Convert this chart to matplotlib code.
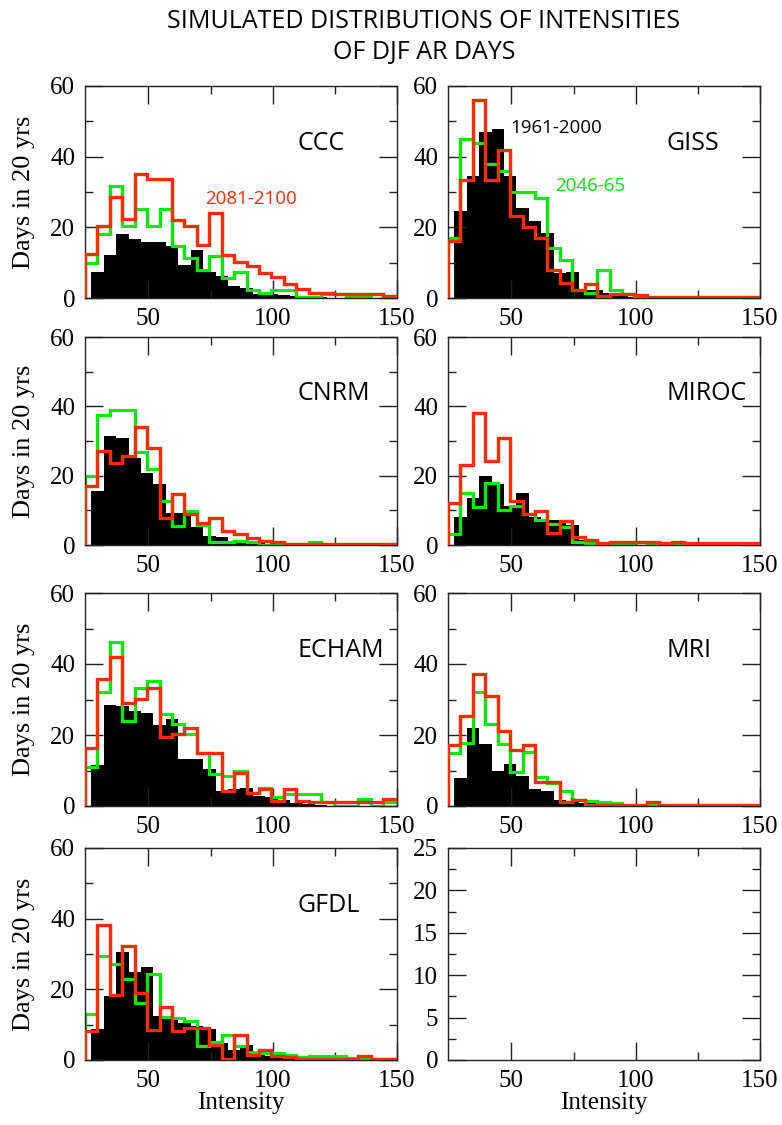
import numpy as np
import matplotlib.pyplot as plt
from matplotlib.ticker import MultipleLocator, FixedLocator

plt.rcParams['font.family'] = ['Liberation Serif', 'DejaVu Serif']

# 直方图的分箱：红/绿线的边界与黑色柱的左边界（黑柱错开半个箱）
line_edges = [24.5 + 5 * k for k in range(27)]
bar_left = [27 + 5 * k for k in range(25)]

models = ['CCC', 'GISS', 'CNRM', 'MIROC', 'ECHAM', 'MRI', 'GFDL']

# 1961-2000 (black bars)
ccc_1961 = [7.5, 12.3, 18.2, 16.7, 15.8, 15.8, 14.6, 9.4, 13.7, 7.5, 6.1, 3.3, 2.8, 1.2, 1.0, 0.8, 0.5, 0.3, 0.2, 0, 0, 0, 0, 0, 0]
giss_1961 = [24.5, 34.4, 46.9, 47.9, 34.4, 25.5, 21.7, 18.4, 7.1, 7.3, 2.2, 2.2, 1.4, 0.5, 0.3, 0, 0, 0, 0, 0, 0, 0, 0, 0, 0]
cnrm_1961 = [15.5, 31.3, 31.0, 25.1, 20.8, 17.5, 9.3, 9.3, 5.1, 2.5, 2.2, 1.0, 0.8, 0.5, 0.3, 0, 0, 0, 0, 0, 0, 0, 0, 0, 0]
miroc_1961 = [8.0, 13.7, 19.8, 17.5, 11.3, 15.1, 8.0, 7.1, 7.1, 5.7, 1.4, 0.9, 0.3, 0, 0, 0, 0, 0, 0, 0, 0, 0, 0, 0, 0]
echam_1961 = [11.5, 28.4, 28.2, 26.8, 26.1, 22.8, 24.5, 13.2, 13.2, 10.3, 4.2, 4.7, 5.2, 2.8, 2.4, 1.7, 0.9, 0.5, 0.3, 0, 0, 0, 0, 0, 0]
mri_1961 = [7.8, 22.0, 17.5, 10.0, 11.9, 8.5, 4.7, 4.3, 1.7, 1.2, 0.9, 0.8, 0.3, 0.3, 0, 0, 0, 0, 0, 0, 0, 0, 0, 0, 0]
gfdl_1961 = [8.8, 18.1, 30.7, 24.8, 26.2, 12.4, 11.9, 10.5, 9.7, 8.8, 4.8, 2.9, 4.3, 2.1, 1.0, 0.5, 0.3, 0, 0, 0, 0, 0, 0, 0, 0]

# 2046-65 (green)
ccc_2046 = [10.0, 18.2, 31.8, 20.3, 25.2, 20.3, 25.2, 14.6, 11.3, 8.0, 12.0, 5.7, 7.3, 2.2, 1.4, 2.2, 2.2, 0.3, 0.3, 1.2, 1.2, 0.3, 0.3, 1.2, 0.3, 0.0]
giss_2046 = [17.0, 45.0, 44.0, 38.0, 36.0, 30.0, 30.0, 28.3, 14.2, 10.8, 2.2, 1.4, 8.0, 2.2, 1.2, 0, 0, 0, 0, 0, 0, 0, 0, 0, 0, 0]
cnrm_2046 = [19.9, 37.6, 39.0, 39.0, 26.7, 21.8, 12.8, 5.4, 9.8, 5.9, 1.0, 0.8, 1.2, 0.8, 0.0, 0.2, 0.2, 0.2, 0.8, 0.2, 0.2, 0.2, 0.2, 0.2, 0.2, 0.2]
miroc_2046 = [3.1, 15.1, 11.1, 18.0, 10.1, 11.3, 9.0, 7.1, 6.1, 5.2, 0.9, 0.7, 0.0, 0.3, 0.3, 0.9, 0.3, 0.0, 0.3, 0, 0, 0, 0, 0, 0, 0]
echam_2046 = [11.1, 32.0, 46.1, 24.0, 33.1, 35.3, 25.9, 23.0, 20.2, 14.9, 8.9, 8.5, 9.9, 3.8, 5.2, 2.4, 3.3, 3.3, 3.3, 1.1, 0.0, 0.0, 2.1, 0.0, 1.1, 1.4]
mri_2046 = [14.9, 17.7, 32.1, 23.2, 17.5, 9.7, 15.1, 8.1, 6.4, 4.1, 1.7, 1.5, 1.2, 0.9, 0, 0, 0.3, 0, 0, 0, 0, 0, 0, 0, 0, 0]
gfdl_2046 = [13.1, 29.3, 27.1, 23.0, 16.2, 24.3, 12.2, 11.9, 11.0, 4.0, 5.0, 7.1, 4.0, 2.4, 2.1, 2.1, 1.4, 0.8, 1.0, 1.0, 1.0, 0.5, 0.5, 0.2, 0.2, 0.2]

# 2081-2100 (red)
ccc_2081 = [12.5, 20.3, 28.6, 22.4, 35.2, 33.7, 33.7, 22.2, 20.3, 15.1, 24.1, 12.3, 10.1, 9.0, 7.0, 6.0, 4.0, 2.5, 1.5, 1.5, 1.0, 1.0, 1.0, 1.0, 0.5, 0.5]
giss_2081 = [16.0, 33.5, 56.0, 33.5, 42.0, 23.3, 20.1, 17.0, 7.8, 4.2, 2.2, 4.1, 0.7, 1.1, 1.1, 0.9, 0.3, 0.3, 0.3, 0.3, 0.3, 0.3, 0.3, 0.3, 0.3, 0.3]
cnrm_2081 = [16.9, 27.0, 23.6, 25.6, 33.9, 28.0, 7.7, 14.6, 8.8, 6.4, 7.9, 3.9, 3.1, 2.0, 1.2, 0.8, 0.2, 0.2, 0.2, 0.2, 0.2, 0.2, 0.2, 0.2, 0.2, 0.2]
miroc_2081 = [12.0, 23.0, 38.1, 24.1, 30.9, 12.8, 8.8, 9.9, 3.5, 6.9, 2.2, 1.4, 0.5, 0.9, 0.9, 0.9, 0.9, 0.5, 0.9, 0.5, 0.5, 0.5, 0.5, 0.5, 0.5, 0.5]
echam_2081 = [16.2, 35.9, 41.9, 29.0, 30.1, 33.1, 19.3, 20.2, 22.1, 14.9, 14.9, 4.2, 9.2, 3.8, 4.7, 1.4, 4.7, 1.4, 1.1, 1.1, 1.1, 1.1, 1.1, 1.1, 1.9, 1.9]
mri_2081 = [17.3, 25.3, 37.1, 30.9, 21.0, 15.8, 17.1, 6.9, 6.9, 1.2, 1.7, 0.3, 0.3, 0.3, 0.3, 0.3, 1.2, 0.3, 0.3, 0.3, 0.3, 0.3, 0.3, 0.3, 0.3, 0.3]
gfdl_2081 = [8.1, 38.3, 18.3, 32.2, 18.9, 8.6, 15.0, 8.1, 9.0, 9.0, 4.3, 0.2, 7.1, 1.4, 2.7, 1.1, 0.8, 0.2, 0.2, 0.2, 0.2, 0.2, 1.0, 0.2, 0.2, 0.2]

black_list = [ccc_1961, giss_1961, cnrm_1961, miroc_1961, echam_1961, mri_1961, gfdl_1961]
green_list = [ccc_2046, giss_2046, cnrm_2046, miroc_2046, echam_2046, mri_2046, gfdl_2046]
red_list = [ccc_2081, giss_2081, cnrm_2081, miroc_2081, echam_2081, mri_2081, gfdl_2081]

RED = '#ff2a00'
GREEN = '#00ee00'
SANS = 'Open Sans'
W, H = 782, 1125

fig = plt.figure(figsize=(W / 100, H / 100), dpi=100)

# 各行子图的上下边界（像素）
rows = [(86, 298), (337, 545), (593, 806), (848, 1060)]
cols = [85, 448]
pw = 312

def make_ax(r, c):
    top, bot = rows[r]
    ax = fig.add_axes([cols[c] / W, 1 - bot / H, pw / W, (bot - top) / H])
    ax.set_xlim(24.5, 150)
    ax.xaxis.set_major_locator(FixedLocator([50, 100, 150]))
    ax.xaxis.set_minor_locator(FixedLocator([75, 125]))
    ax.tick_params(which='both', direction='in', top=True, right=True, width=1.0, color='#222222')
    ax.tick_params(which='major', length=13, labelsize=18, pad=7)
    ax.tick_params(which='minor', length=6)
    for s in ax.spines.values():
        s.set_linewidth(1.0)
        s.set_color('#222222')
    if c == 0:
        ax.set_ylabel('Days in 20 yrs', fontsize=19)
        ax.yaxis.set_label_coords(-0.16, 0.5)
    if r == 3:
        ax.set_xlabel('Intensity', fontsize=18)
        ax.xaxis.set_label_coords(0.5, -0.15)
    return ax

for i, name in enumerate(models):
    r, c = i // 2, i % 2
    ax = make_ax(r, c)
    ax.set_ylim(0, 60)
    ax.yaxis.set_major_locator(MultipleLocator(20))
    ax.yaxis.set_minor_locator(MultipleLocator(10))
    ax.bar(bar_left, black_list[i], width=5, align='edge', color='black', linewidth=0, zorder=1)
    ax.stairs(green_list[i], line_edges, baseline=0, color=GREEN, lw=2.3, zorder=2)
    ax.stairs(red_list[i], line_edges, baseline=0, color=RED, lw=2.4, zorder=3)
    xt = 0.68 if c == 0 else 0.70
    ax.text(xt, 0.73, name, transform=ax.transAxes, ha='left', va='center',
            family=SANS, fontsize=18)
    if name == 'CCC':
        ax.text(0.385, 0.467, '2081-2100', transform=ax.transAxes, color=RED,
                ha='left', va='center', family=SANS, fontsize=13.5)
    if name == 'GISS':
        ax.text(0.199, 0.80, '1961-2000', transform=ax.transAxes, color='black',
                ha='left', va='center', family=SANS, fontsize=13.5)
        ax.text(0.343, 0.528, '2046-65', transform=ax.transAxes, color=GREEN,
                ha='left', va='center', family=SANS, fontsize=13.5)

# 右下角空白子图
ax = make_ax(3, 1)
ax.set_ylim(0, 25)
ax.yaxis.set_major_locator(MultipleLocator(5))
ax.yaxis.set_minor_locator(MultipleLocator(2.5))

fig.text(424 / W, 1 - 21 / H, 'SIMULATED DISTRIBUTIONS OF INTENSITIES', ha='center', va='center',
         family=SANS, fontsize=18)
fig.text(424 / W, 1 - 53 / H, 'OF DJF AR DAYS', ha='center', va='center',
         family=SANS, fontsize=18)

fig.savefig('out.png', dpi=100)
